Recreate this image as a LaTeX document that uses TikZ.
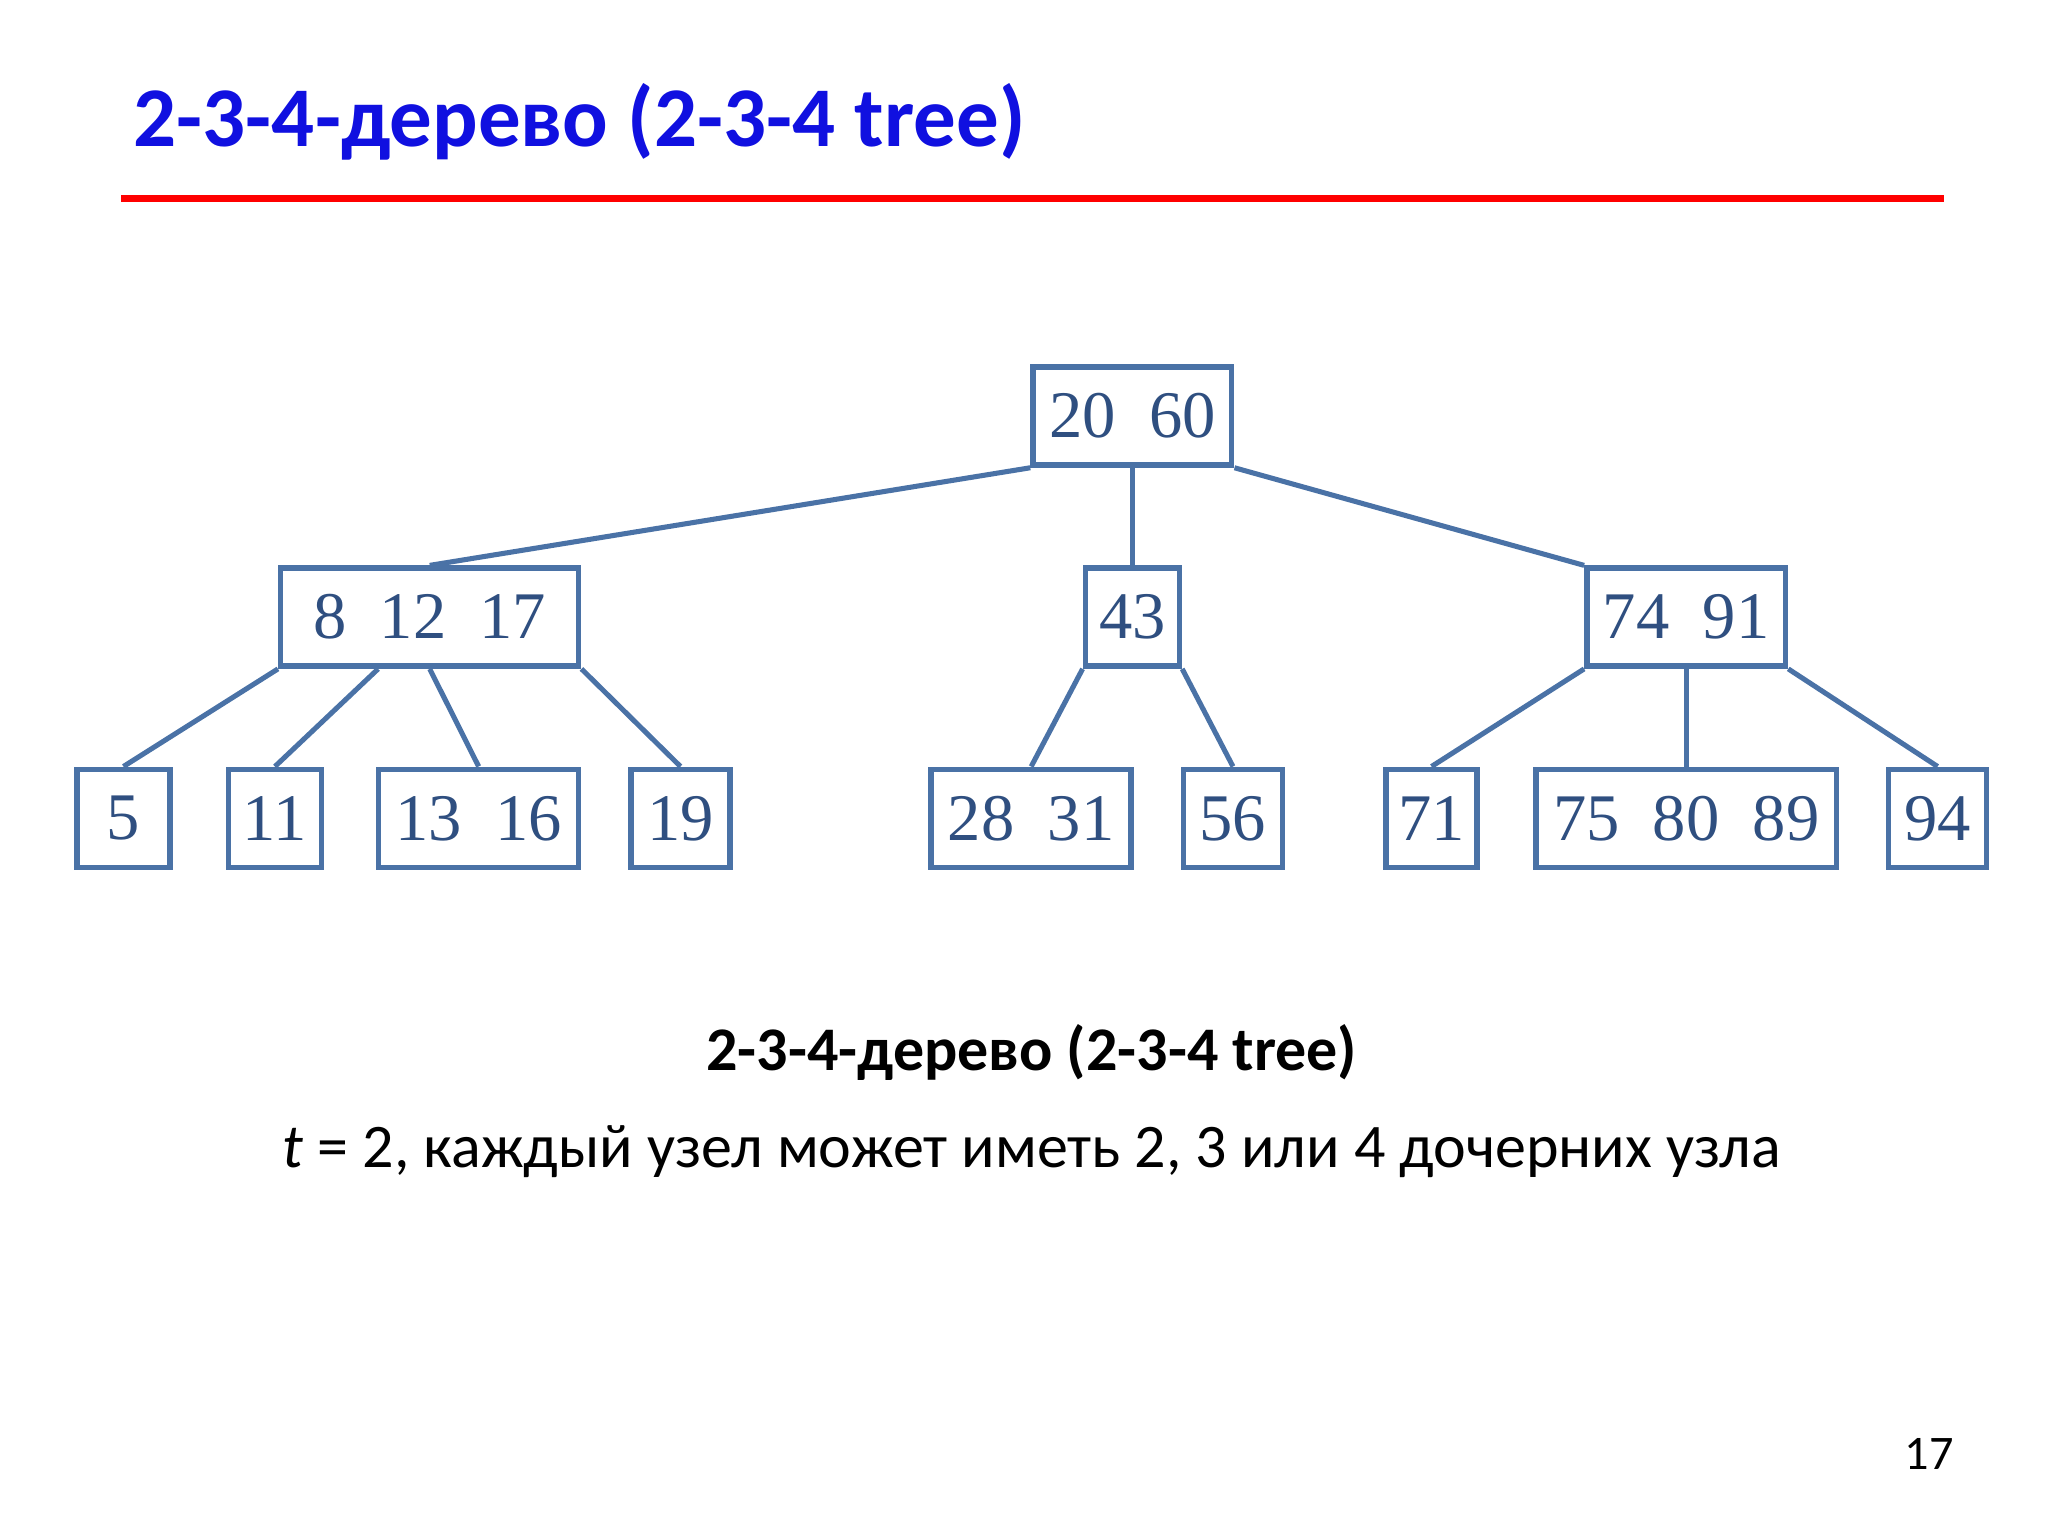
\documentclass[tikz,border=0pt]{standalone}
\usepackage{fontspec}
\usetikzlibrary{calc}
\setmainfont{Carlito}
\newfontfamily\numfont{Liberation Serif}
\definecolor{boxc}{HTML}{4A72A6}
\definecolor{numc}{HTML}{2F4F80}
\definecolor{titleblue}{HTML}{1010E0}
\begin{document}
\begin{tikzpicture}[x=0.01cm,y=-0.01cm,
  bx/.style={draw=boxc,line width=1.2pt,minimum height=0.75cm,inner sep=0pt,
    text=numc,font=\numfont\fontsize{14.5}{16}\selectfont},
  ed/.style={draw=boxc,line width=1.1pt}]
\useasboundingbox (0,0) rectangle (1568,1176);
\node[anchor=base west,text=titleblue,font=\fontsize{18.5}{20}\selectfont\bfseries] (title) at (90,112) {2-3-4-дерево (2-3-4 tree)};
\draw[red,line width=1.5pt] (93,152) -- (1488,152);
% nodes
\node[bx,minimum width=1.52cm] (r) at (867,318.5) {20\enspace 60};
\node[bx,minimum width=2.28cm] (a) at (329,472.5) {8\enspace 12\enspace 17};
\node[bx,minimum width=0.72cm] (b) at (867,472.5) {43};
\node[bx,minimum width=1.52cm] (c) at (1291,472.5) {74\enspace 91};
\node[bx,minimum width=0.71cm] (l1) at (94.5,626.5) {5};
\node[bx,minimum width=0.71cm] (l2) at (210.5,626.5) {11};
\node[bx,minimum width=1.53cm] (l3) at (366.5,626.5) {13\enspace 16};
\node[bx,minimum width=0.76cm] (l4) at (521,626.5) {19};
\node[bx,minimum width=1.53cm] (l5) at (789.5,626.5) {28\enspace 31};
\node[bx,minimum width=0.76cm] (l6) at (944,626.5) {56};
\node[bx,minimum width=0.70cm] (l7) at (1096,626.5) {71};
\node[bx,minimum width=2.30cm] (l8) at (1291,626.5) {75\enspace 80\enspace 89};
\node[bx,minimum width=0.75cm] (l9) at (1483.5,626.5) {94};
% edges
\draw[ed] (r.south west) -- (a.north);
\draw[ed] (r.south) -- (b.north);
\draw[ed] (r.south east) -- (c.north west);
\draw[ed] (a.south west) -- (l1.north);
\draw[ed] ($(a.south west)!0.33!(a.south east)$) -- (l2.north);
\draw[ed] (a.south) -- (l3.north);
\draw[ed] (a.south east) -- (l4.north);
\draw[ed] (b.south west) -- (l5.north);
\draw[ed] (b.south east) -- (l6.north);
\draw[ed] (c.south west) -- (l7.north);
\draw[ed] (c.south) -- (l8.north);
\draw[ed] (c.south east) -- (l9.north);
% captions
\node[font=\fontsize{13.5}{15}\selectfont\bfseries] (cap1) at (790,806) {2-3-4-дерево (2-3-4 tree)};
\node[font=\fontsize{13.5}{15}\selectfont] (cap2) at (790,882) {\textit{t} = 2, каждый узел может иметь 2, 3 или 4 дочерних узла};
\node[font=\fontsize{10.5}{12}\selectfont] (pg) at (1477,1113) {17};
\end{tikzpicture}
\end{document}
